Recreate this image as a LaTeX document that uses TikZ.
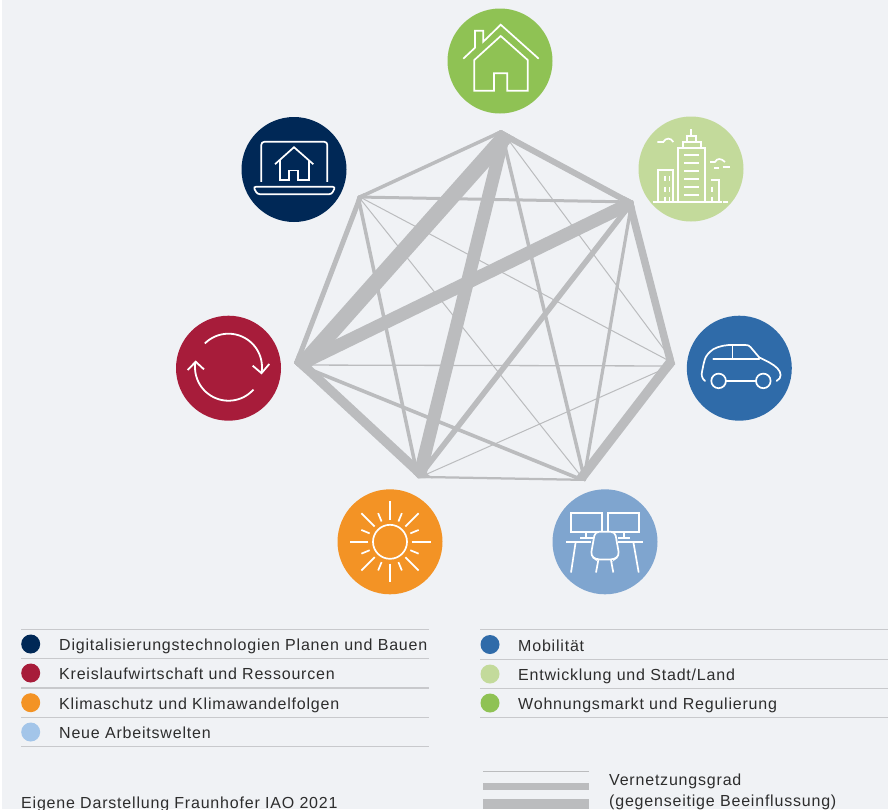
\documentclass[tikz,border=0pt]{standalone}
\usepackage{fontspec}
\setmainfont[LetterSpace=5]{Liberation Sans}
\usepackage{tikz}
\definecolor{bgcol}{HTML}{F0F2F5}
\definecolor{netcol}{HTML}{BBBCBE}
\definecolor{rulecol}{HTML}{C8C9CC}
\definecolor{txtcol}{HTML}{2D2D2D}
\definecolor{wohnen}{HTML}{8FC254}
\definecolor{digital}{HTML}{002856}
\definecolor{stadt}{HTML}{C3DA9B}
\definecolor{mobil}{HTML}{2F6BA9}
\definecolor{kreis}{HTML}{A71C3A}
\definecolor{klima}{HTML}{F39325}
\definecolor{arbeit}{HTML}{7FA5CF}
\definecolor{arbeitleg}{HTML}{A3C5E9}
\tikzset{
	iconcircle/.style={circle,minimum size=105pt,inner sep=0pt},
	legdot/.style={circle,minimum size=19pt,inner sep=0pt},
	legtext/.style={anchor=base west,inner sep=0pt,text=txtcol,font=\fontsize{16}{19}\selectfont},
	legrule/.style={rulecol,line width=1.1pt},
	icon/.style={white,line width=1.7pt,line join=miter},
	net/.style={netcol,shorten >=-14pt,shorten <=-14pt}
}
\begin{document}
\begin{tikzpicture}[x=1pt,y=-1pt]
	\useasboundingbox (0,0) rectangle (888,809);
	\fill[white] (0,0) rectangle (888,809);
	\fill[bgcol] (2,0) rectangle (888,809);
	%corners of the net
	\coordinate (vT) at (501,130);
	\coordinate (vUR) at (633,201);
	\coordinate (vR) at (675,364);
	\coordinate (vLR) at (585,481);
	\coordinate (vLL) at (418,478);
	\coordinate (vL) at (294,363);
	\coordinate (vUL) at (358,196);
	%thick bands do not run exactly through the corners
	\coordinate (bandTa) at (511,130);
	\coordinate (bandTb) at (304,363);
	\coordinate (bandLLa) at (505,130);
	\coordinate (bandLLb) at (419,478);
	\coordinate (bandURa) at (633,202);
	\coordinate (bandURb) at (294,367);
	\coordinate (ulurA) at (358,197);
	\coordinate (ulurB) at (633,202);
	\coordinate (rlA) at (294,365);
	\coordinate (rlB) at (675,366);
	\coordinate (urlrA) at (632,201);
	\coordinate (urlrB) at (583.5,481);
	\begin{scope}
		\clip (vT) -- (vUR) -- (vR) -- (vLR) -- (vLL) -- (vL) -- (vUL) -- cycle;
		%outline, only the inner half stays visible
		\foreach \a/\b/\w in {vT/vUL/7,vT/vUR/12,vUR/vR/15,vR/vLR/19,vLR/vLL/4.5,vLL/vL/19,vL/vUL/10}{
			\draw[net,line width=\w pt] (\a) -- (\b);
		}
		%thin links
		\foreach \a/\b/\w in {vT/vR/1,vUL/vR/1,vUL/vLR/1,vR/vLL/1,rlA/rlB/1.3,vT/vLR/3.5,vUL/vLL/3.5,ulurA/ulurB/3,vL/vLR/3.6,urlrA/urlrB/3.2,vUR/vLL/5.5}{
			\draw[net,line width=\w pt] (\a) -- (\b);
		}
		%thick links
		\draw[net,line width=16pt] (bandTa) -- (bandTb);
		\draw[net,line width=13pt] (bandLLa) -- (bandLLb);
		\draw[net,line width=13pt] (bandURa) -- (bandURb);
	\end{scope}

	%circles
	\node[iconcircle,fill=wohnen] (wohnenC) at (500,61) {};
	\node[iconcircle,fill=digital] (digitalC) at (294,169.5) {};
	\node[iconcircle,fill=stadt] (stadtC) at (691,169) {};
	\node[iconcircle,fill=mobil] (mobilC) at (739.3,368.2) {};
	\node[iconcircle,fill=kreis] (kreisC) at (228.5,368.2) {};
	\node[iconcircle,fill=klima] (klimaC) at (390,541.8) {};
	\node[iconcircle,fill=arbeit] (arbeitC) at (605,541.8) {};

	%house
	\begin{scope}[shift={(wohnenC.center)},icon]
		\draw (-36.7,-2.3) -- (-25,-13.3) -- (-25,-30.3) -- (-16.7,-30.3) -- (-16.7,-19.3) -- (0.7,-36.3) -- (38.7,-2.3);
		\draw (-25.7,-1) -- (0.7,-25) -- (27.7,-1) -- (27.7,29.7) -- (7.3,29.7) -- (7.3,12.3) -- (-6,12.3) -- (-6,29.7) -- (-25.7,29.7) -- cycle;
	\end{scope}

	%laptop
	\begin{scope}[shift={(digitalC.center)},icon]
		\draw[rounded corners=3pt] (-32.7,12.3) -- (-32.7,-27.7) -- (33.3,-27.7) -- (33.3,12.3);
		\draw[rounded corners=2.5pt] (-40.7,17.3) -- (41.3,17.3) -- (37.7,24.7) -- (-36.7,24.7) -- cycle;
		\draw (-19,-5.3) -- (0,-22.3) -- (19.3,-5.3);
		\draw (-14,-9.3) -- (-14,10.7) -- (-4.7,10.7) -- (-4.7,1) -- (4.3,1) -- (4.3,10.7) -- (14.7,10.7) -- (14.7,-9.3);
	\end{scope}

	%city
	\begin{scope}[shift={(stadtC.center)},icon]
		\draw (-37.7,33.3) -- (30.7,33.3);
		\draw (32.3,33.3) -- (37.3,33.3);
		\draw (-13,32.7) -- (-13,-21.3) -- (14.3,-21.3) -- (14.3,32.7);
		\draw (-7.7,-21.3) -- (-7.7,-27.3) -- (9.7,-27.3) -- (9.7,-21.3);
		\draw (-4.3,-27.3) -- (-4.3,-33.3) -- (5,-33.3) -- (5,-27.3);
		\draw (-5.5,-33.3) -- (6,-33.3);
		\draw (0.3,-39.7) -- (0.3,-33.3);
		\foreach \y in {-14,-6.3,1.7,9.7,17.7,25.7}{
			\draw (-7,\y) -- (8.3,\y);
		}
		\draw (-33.3,32.7) -- (-33.3,0.7) -- (-18.3,0.7) -- (-18.3,32.7);
		\foreach \x in {-26,-21.5}{
			\draw (\x,7) -- (\x,11.7);
			\draw (\x,18.3) -- (\x,22.7);
			\draw (\x,27.7) -- (\x,32.7);
		}
		\draw (19.7,11) -- (27.7,11) -- (27.7,32.7);
		\draw (20.7,17.7) -- (20.7,22.7);
		\draw (20.7,27.7) -- (20.7,32.7);
		%clouds
		\draw (-33.7,-27) -- (-27.7,-27) .. controls (-25.5,-31.5) and (-20,-31.5) .. (-17.7,-27);
		\draw (19,-7) -- (24,-7) .. controls (26,-11) and (30,-11) .. (34,-7);
		\draw (23.3,-1) -- (27.7,-1);
		\draw (31.7,-2) -- (39,-2);
	\end{scope}

	%car
	\begin{scope}[shift={(mobilC.center)},icon,line cap=round]
		\draw (-34.3,12.7) .. controls (-38,10) and (-38,6) .. (-37,2) .. controls (-35,-6) and (-36,-12) .. (-26,-19) .. controls (-20,-22.5) and (-12,-23.3) .. (-7,-23.3) -- (5.7,-23.3) .. controls (9,-23.3) and (10,-22.5) .. (11.3,-21) -- (20,-10.7) .. controls (28,-7) and (34,-4) .. (38,0) .. controls (42,4) and (43,10) .. (37.3,12.7);
		\draw (-26,-9.3) -- (20,-9.3);
		\draw (-6.7,-23.3) -- (-6.7,-9.3);
		\draw (-20.7,12.7) circle[radius=7.3pt];
		\draw (24,12.7) circle[radius=7.3pt];
		\draw (-13.3,13) -- (16.7,13);
	\end{scope}

	%circular economy
	\begin{scope}[shift={(kreisC.center)},icon,line width=1.8pt]
		\draw plot[domain=-135:8,samples=40,smooth] ({33.5*cos(\x)},{-1+33.5*sin(\x)});
		\draw plot[domain=42:189,samples=40,smooth] ({33.5*cos(\x)},{-1+33.5*sin(\x)});
		\draw (24.2,-2.5) -- (33,5) -- (40.8,-4.2);
		\draw (-40.8,1.8) -- (-32.8,-6.5) -- (-24.5,1.2);
	\end{scope}

	%sun
	\begin{scope}[shift={(klimaC.center)},icon]
		\draw (0,0) circle[radius=17pt];
		\foreach \i in {0,1,...,7}{
			\draw (\i*45:21.7) -- (\i*45:40.5);
			\draw (\i*45+22.5:22) -- (\i*45+22.5:31);
		}
	\end{scope}

	%desk
	\begin{scope}[shift={(arbeitC.center)},icon]
		\draw (-34.3,-29) rectangle (-3.3,-9.7);
		\draw (3.3,-29) rectangle (34.3,-9.7);
		\draw (-19,-9.7) -- (-19,-4);
		\draw (-25,-4) -- (-10,-4);
		\draw (19,-9.7) -- (19,-4);
		\draw (13.3,-4) -- (25,-4);
		\draw (-39,0) -- (-14,0);
		\draw (13.3,0) -- (38.3,0);
		\draw (-29.3,0) -- (-34,30.7);
		\draw (28.3,0) -- (33.7,30.7);
		\draw[fill=arbeit,rounded corners=4pt] (-10,-10) -- (10,-10) -- (14.3,14) -- (9,17.7) -- (-9,17.7) -- (-14.3,14) -- cycle;
		\draw (-6.7,18.3) -- (-9,30.7);
		\draw (6,18.3) -- (8.3,30.7);
	\end{scope}

	%legend left
	\foreach \y in {629.3,658.3,688,717.3,746.7}{
		\draw[legrule] (21,\y) -- (429,\y);
	}
	\node[legdot,fill=digital] (dotDigital) at (30.7,644) {};
	\node[legdot,fill=kreis] (dotKreis) at (30.7,673) {};
	\node[legdot,fill=klima] (dotKlima) at (30.7,702.7) {};
	\node[legdot,fill=arbeitleg] (dotArbeit) at (30.7,732) {};
	\node[legtext] (txtDigital) at (59,650) {Digitalisierungstechnologien Planen und Bauen};
	\node[legtext] (txtKreis) at (59,679.3) {Kreislaufwirtschaft und Ressourcen};
	\node[legtext] (txtKlima) at (59,709) {Klimaschutz und Klimawandelfolgen};
	\node[legtext] (txtArbeit) at (59,738.3) {Neue Arbeitswelten};

	%legend right
	\foreach \y in {629.3,659.3,688.3,717.7}{
		\draw[legrule] (480,\y) -- (888,\y);
	}
	\node[legdot,fill=mobil] (dotMobil) at (490,644.5) {};
	\node[legdot,fill=stadt] (dotStadt) at (490,674) {};
	\node[legdot,fill=wohnen] (dotWohnen) at (490,703) {};
	\node[legtext] (txtMobil) at (518,651) {Mobilität};
	\node[legtext] (txtStadt) at (518,680) {Entwicklung und Stadt/Land};
	\node[legtext] (txtWohnen) at (518,709.3) {Wohnungsmarkt und Regulierung};

	%line widths
	\draw[netcol,line width=1pt] (483,771.3) -- (589,771.3);
	\fill[netcol] (483,783.3) rectangle (589,790);
	\fill[netcol] (483,799) rectangle (589,809);
	\node[legtext] (txtGrad) at (609,785) {Vernetzungsgrad};
	\node[legtext] (txtGradB) at (609,806.7) {(gegenseitige Beeinflussung)};
	\node[legtext] (txtQuelle) at (21,808.5) {Eigene Darstellung Fraunhofer IAO 2021};
\end{tikzpicture}
\end{document}
